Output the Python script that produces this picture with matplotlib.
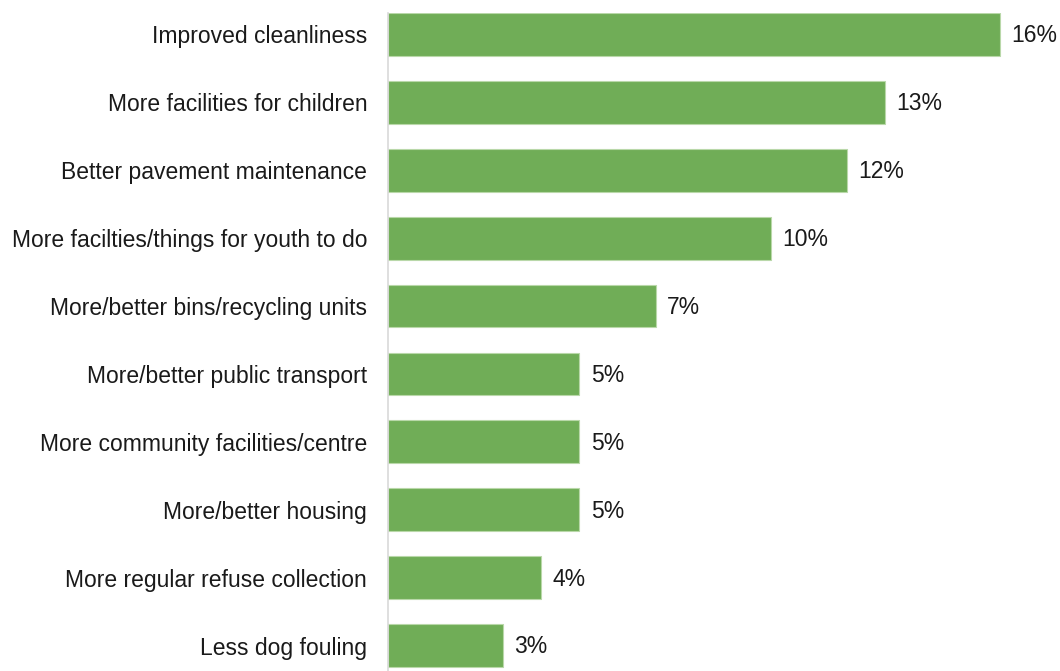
import matplotlib
matplotlib.use("Agg")
import matplotlib.pyplot as plt

# data
categories = [
    "Improved cleanliness",
    "More facilities for children",
    "Better pavement maintenance",
    "More facilties/things for youth to do",
    "More/better bins/recycling units",
    "More/better public transport",
    "More community facilities/centre",
    "More/better housing",
    "More regular refuse collection",
    "Less dog fouling",
]
values = [16, 13, 12, 10, 7, 5, 5, 5, 4, 3]

plt.rcParams['font.family'] = ['Liberation Sans', 'DejaVu Sans']

W, H = 1060, 671
fig = plt.figure(figsize=(W / 100, H / 100), dpi=100)
# axes from the gray line at x=388 to the right edge, y 13..671 px
ax = fig.add_axes([388 / W, 0, 1 - 388 / W, (H - 13) / H])

pos = list(range(len(categories)))
ax.barh(pos, values, height=0.63, color="#70ad57", edgecolor="#b9d8a9", linewidth=0.8)

ax.set_xlim(0, 672 / 38.25)
ax.set_ylim(9.374, -0.315)

for p, v in zip(pos, values):
    ax.text(v + 0.3, p + 0.02, f"{v}%", va="center", ha="left", fontsize=16.5, color="#1a1a1a")

ax.set_yticks(pos)
ax.set_yticklabels(categories, fontsize=16.5, color="#1a1a1a")
ax.tick_params(axis="y", length=0, pad=15)
ax.set_xticks([])

for s in ["top", "right", "bottom"]:
    ax.spines[s].set_visible(False)
ax.spines["left"].set_color("#d9d9d9")
ax.spines["left"].set_linewidth(1.2)

fig.savefig("out.png", dpi=100, facecolor="white")
